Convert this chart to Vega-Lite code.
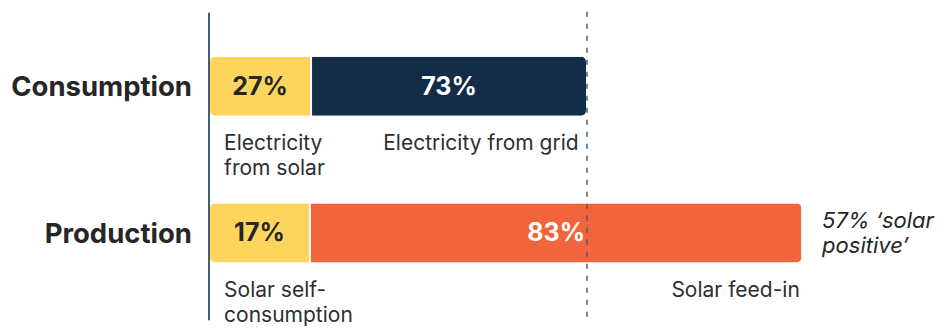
{
  "$schema": "https://vega.github.io/schema/vega-lite/v6.json",
  "autosize": {"type": "fit", "contains": "padding"},
  "width": 952,
  "height": 331,
  "padding": 0,
  "background": "#ffffff",
  "config": {"view": {"stroke": null}, "font": "Inter"},
  "datasets": {
    "segments": [
      {"row": 0, "group": "Consumption", "part": "Electricity from solar", "order": 1, "value": 27, "pct": "27%"},
      {"row": 0, "group": "Consumption", "part": "Electricity from grid", "order": 2, "value": 73, "pct": "73%"},
      {"row": 1, "group": "Production", "part": "Solar self-consumption", "order": 1, "value": 26.7, "pct": "17%"},
      {"row": 1, "group": "Production", "part": "Solar feed-in", "order": 2, "value": 130.3, "pct": "83%"}
    ],
    "groups": [
      {"row": 0, "group": "Consumption"},
      {"row": 1, "group": "Production"}
    ],
    "leftNotes": [
      {"row": 0, "x": 4, "note": "Electricity\nfrom solar"},
      {"row": 1, "x": 4, "note": "Solar self-\nconsumption"}
    ],
    "rightNotes": [
      {"row": 0, "x": 97.8, "note": "Electricity from grid"},
      {"row": 1, "x": 156.3, "note": "Solar feed-in"}
    ],
    "callout": [
      {"row": 1, "x": 162.2, "note": "57% \u2018solar\npositive\u2019"}
    ]
  },
  "layer": [
    {
      "data": {"name": "segments"},
      "mark": {"type": "bar", "orient": "horizontal", "size": 61, "cornerRadius": 6, "stroke": "#ffffff", "strokeWidth": 2},
      "encoding": {
        "x": {"field": "value", "type": "quantitative", "stack": "zero", "axis": null,
              "scale": {"domain": [-55.29, 196.56], "nice": false, "zero": false}},
        "y": {"field": "row", "type": "quantitative", "axis": null,
              "scale": {"domain": [-0.5532, 1.6345], "reverse": true, "nice": false, "zero": false}},
        "order": {"field": "order", "type": "quantitative"},
        "color": {"field": "part", "type": "nominal", "legend": null,
                  "scale": {"domain": ["Electricity from solar", "Electricity from grid", "Solar self-consumption", "Solar feed-in"],
                            "range": ["#FDD55D", "#132C48", "#FDD55D", "#F2643B"]}}
      }
    },
    {
      "data": {"name": "segments"},
      "mark": {"type": "text", "fontSize": 25, "fontWeight": "bold", "align": "center", "baseline": "alphabetic", "dy": 8.5},
      "encoding": {
        "x": {"field": "value", "type": "quantitative", "stack": "zero", "bandPosition": 0.5},
        "y": {"field": "row", "type": "quantitative"},
        "order": {"field": "order", "type": "quantitative"},
        "detail": {"field": "part", "type": "nominal"},
        "text": {"field": "pct", "type": "nominal"},
        "color": {"condition": {"test": "datum.order == 1", "value": "#262626"}, "value": "#ffffff"}
      }
    },
    {
      "data": {"values": [{"zero": 0}]},
      "mark": {"type": "rule", "color": "#1B3352", "strokeWidth": 1.6},
      "encoding": {
        "x": {"field": "zero", "type": "quantitative"},
        "y": {"datum": -0.5},
        "y2": {"datum": 1.5951}
      }
    },
    {
      "data": {"values": [{"consumption": 100}]},
      "mark": {"type": "rule", "color": "#475C7A", "strokeWidth": 1.5, "strokeDash": [5, 7]},
      "encoding": {
        "x": {"field": "consumption", "type": "quantitative"},
        "y": {"datum": -0.507},
        "y2": {"datum": 1.601}
      }
    },
    {
      "data": {"name": "groups"},
      "mark": {"type": "text", "fontSize": 27.5, "fontWeight": "bold", "align": "right", "baseline": "alphabetic", "dx": -17, "dy": 9.6, "color": "#262626"},
      "encoding": {
        "x": {"datum": 0},
        "y": {"field": "row", "type": "quantitative"},
        "text": {"field": "group", "type": "nominal"}
      }
    },
    {
      "data": {"name": "leftNotes"},
      "mark": {"type": "text", "fontSize": 21, "align": "left", "baseline": "alphabetic", "dy": 64, "lineBreak": "\n", "lineHeight": 25, "color": "#2e2e2e"},
      "encoding": {
        "x": {"field": "x", "type": "quantitative"},
        "y": {"field": "row", "type": "quantitative"},
        "text": {"field": "note", "type": "nominal"}
      }
    },
    {
      "data": {"name": "rightNotes"},
      "mark": {"type": "text", "fontSize": 21, "align": "right", "baseline": "alphabetic", "dy": 64, "color": "#2e2e2e"},
      "encoding": {
        "x": {"field": "x", "type": "quantitative"},
        "y": {"field": "row", "type": "quantitative"},
        "text": {"field": "note", "type": "nominal"}
      }
    },
    {
      "data": {"name": "callout"},
      "mark": {"type": "text", "fontSize": 22, "fontStyle": "italic", "align": "left", "baseline": "alphabetic", "dy": -5, "lineBreak": "\n", "lineHeight": 25.5, "color": "#262626"},
      "encoding": {
        "x": {"field": "x", "type": "quantitative"},
        "y": {"field": "row", "type": "quantitative"},
        "text": {"field": "note", "type": "nominal"}
      }
    }
  ]
}
